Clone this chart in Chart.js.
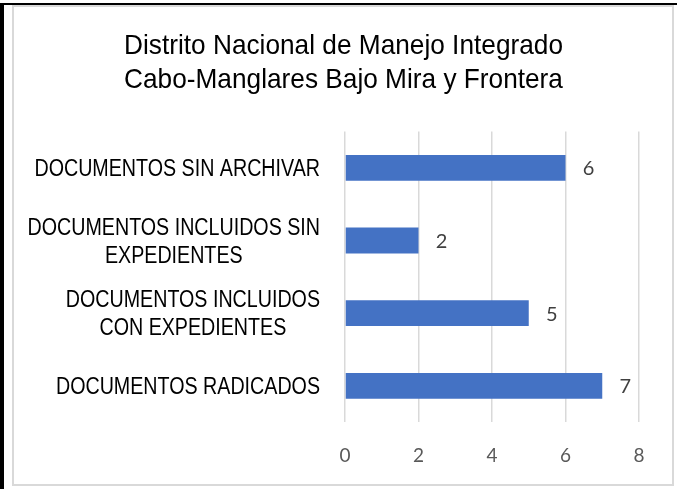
<!DOCTYPE html>
<html>
<head>
<meta charset="utf-8">
<script src="https://cdn.jsdelivr.net/npm/chart.js@4.4.1/dist/chart.umd.min.js"></script>
<style>
  html, body { margin: 0; padding: 0; background: #ffffff; }
  #wrap { position: relative; width: 677px; height: 489px; overflow: hidden; background: #ffffff; }
  .edge-top { position: absolute; left: 0; top: 3px; width: 677px; height: 1.5px; background: #000; }
  .edge-left { position: absolute; left: 0; top: 3px; width: 4px; height: 486px; background: #000; }
  .frame { position: absolute; left: 12px; top: 4.5px; width: 658px; height: 477px; border: 2px solid #d9d9d9; }
  canvas { position: absolute; left: 0; top: 0; }
</style>
</head>
<body>
<div id="wrap">
  <div class="edge-top"></div>
  <div class="edge-left"></div>
  <div class="frame"></div>
  <canvas id="chart" width="677" height="489"></canvas>
</div>
<script>
// Chart content
const titleLines = ['Distrito Nacional de Manejo Integrado', 'Cabo-Manglares Bajo Mira y Frontera'];
const categories = [
  ['DOCUMENTOS SIN ARCHIVAR'],
  ['DOCUMENTOS INCLUIDOS SIN', 'EXPEDIENTES'],
  ['DOCUMENTOS INCLUIDOS', 'CON EXPEDIENTES'],
  ['DOCUMENTOS RADICADOS']
];
const documentCounts = [6, 2, 5, 7];
const axisMin = 0;
const axisMax = 8;
const axisStep = 2;

const BAR_COLOR = '#4472C4';
const GRID_COLOR = '#d9d9d9';

// Two-line chart title, slightly condensed
const titlePlugin = {
  id: 'condensedTitle',
  afterDraw(chart) {
    const ctx = chart.ctx;
    const sx = 0.937;
    const cx = 343.5;
    ctx.save();
    ctx.font = '28px "Liberation Sans", Arial, sans-serif';
    ctx.fillStyle = '#000000';
    ctx.textAlign = 'center';
    ctx.textBaseline = 'alphabetic';
    ctx.scale(sx, 1);
    ctx.fillText(titleLines[0], cx / sx, 54);
    ctx.fillText(titleLines[1], cx / sx, 88);
    ctx.restore();
  }
};

// Category names beside the bars, placed with the y scale
const categoryLabelPlugin = {
  id: 'categoryLabels',
  afterDraw(chart) {
    const ctx = chart.ctx;
    const yScale = chart.scales.y;
    const sx = 0.855;
    const right = 320;
    const lineGap = 28;
    ctx.save();
    ctx.font = '23px "Liberation Sans", Arial, sans-serif';
    ctx.fillStyle = '#000000';
    ctx.textAlign = 'center';
    ctx.textBaseline = 'alphabetic';
    categories.forEach((lines, i) => {
      const cy = yScale.getPixelForValue(i);
      const widest = Math.max(...lines.map(l => ctx.measureText(l).width)) * sx;
      const cx = right - widest / 2;
      const first = cy - (lines.length - 1) * lineGap / 2;
      lines.forEach((line, k) => {
        ctx.save();
        ctx.scale(sx, 1);
        ctx.fillText(line, cx / sx, first + k * lineGap + 8.3);
        ctx.restore();
      });
    });
    ctx.restore();
  }
};

// Value printed to the right of each bar
const valueLabelPlugin = {
  id: 'valueLabels',
  afterDatasetsDraw(chart) {
    const ctx = chart.ctx;
    const meta = chart.getDatasetMeta(0);
    ctx.save();
    ctx.font = '20px Lato, "Open Sans", sans-serif';
    ctx.fillStyle = '#404040';
    ctx.textAlign = 'center';
    ctx.textBaseline = 'middle';
    meta.data.forEach((bar, i) => {
      ctx.fillText(String(documentCounts[i]), bar.x + 23, bar.y + 1);
    });
    ctx.restore();
  }
};

new Chart(document.getElementById('chart'), {
  type: 'bar',
  data: {
    labels: categories,
    datasets: [{
      data: documentCounts,
      backgroundColor: BAR_COLOR,
      borderWidth: 0,
      categoryPercentage: 1,
      barPercentage: 0.356
    }]
  },
  options: {
    indexAxis: 'y',
    responsive: false,
    devicePixelRatio: 1,
    animation: false,
    layout: { padding: { left: 345, right: 38, top: 131.5, bottom: 0 } },
    plugins: {
      legend: { display: false },
      title: { display: false },
      tooltip: { enabled: false }
    },
    scales: {
      x: {
        min: axisMin,
        max: axisMax,
        border: { display: false },
        grid: { color: GRID_COLOR, lineWidth: 1.5, drawTicks: false },
        ticks: {
          stepSize: axisStep,
          padding: 22,
          color: '#595959',
          font: { family: 'Lato, "Open Sans", sans-serif', size: 19 }
        }
      },
      y: {
        display: false
      }
    }
  },
  plugins: [titlePlugin, categoryLabelPlugin, valueLabelPlugin]
});
</script>
</body>
</html>
